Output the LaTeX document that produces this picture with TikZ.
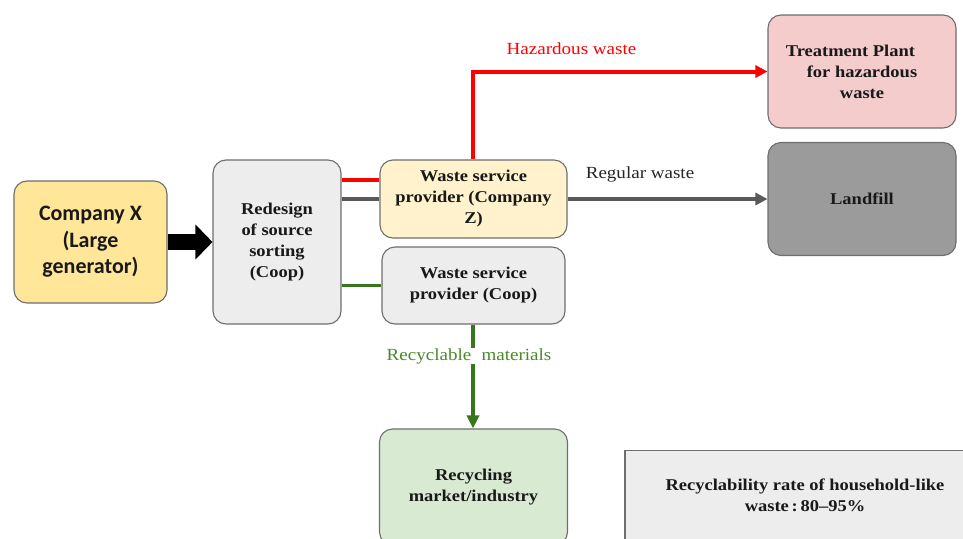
\documentclass[tikz,border=0pt]{standalone}
\usepackage{fontspec}
\setmainfont{Liberation Serif}
\newfontfamily\palf[FakeStretch=1.12,Ligatures=TeX]{Liberation Serif}
\newfontfamily\calib{Carlito}
\usetikzlibrary{arrows.meta}
\definecolor{bordergray}{HTML}{6E6E6E}
\definecolor{cxfill}{HTML}{FFE699}
\definecolor{lightgray}{HTML}{EDEDED}
\definecolor{czfill}{HTML}{FFF2CC}
\definecolor{tpfill}{HTML}{F4CCCC}
\definecolor{lffill}{HTML}{9B9B9B}
\definecolor{recfill}{HTML}{D9EAD3}
\definecolor{hazred}{HTML}{FF0000}
\definecolor{reggray}{HTML}{595959}
\definecolor{recgreen}{HTML}{38761D}
\definecolor{labgreen}{HTML}{4A8A2A}
\begin{document}
\begin{tikzpicture}[x=1pt,y=-1pt,
  box/.style={draw=bordergray, line width=1.1pt, rounded corners=13pt, align=center,
    inner sep=0pt, font=\palf\bfseries\fontsize{16.5}{21}\selectfont, text=black!90},
  flowred/.style={draw=hazred, line width=4pt},
  flowgray/.style={draw=reggray, line width=4pt},
  flowgreen/.style={draw=recgreen, line width=3.5pt},
  lab/.style={font=\palf\fontsize{17}{20}\selectfont, inner sep=0pt}
]
\clip (0,0) rectangle (963,538);
\fill[white] (0,0) rectangle (963,538);

\node[box, fill=cxfill, minimum width=153pt, minimum height=122pt,
  font=\calib\bfseries\fontsize{22}{26.5}\selectfont] (cx) at (90.5,242) {Company X\\(Large\\generator)};
\node[box, fill=lightgray, minimum width=128pt, minimum height=164pt] (rd) at (277,242) {Redesign\\of source\\sorting\\(Coop)};
\node[box, fill=czfill, minimum width=187pt, minimum height=78pt] (cz) at (473.5,199) {Waste service\\provider (Company\\Z)};
\node[box, fill=lightgray, minimum width=183pt, minimum height=77pt] (co) at (473.5,285.5) {Waste service\\provider (Coop)};
\node[box, fill=tpfill, minimum width=188pt, minimum height=113pt] (tp) at (862,71.5) {Treatment Plant\hspace*{1.4em}\\for hazardous\\waste};
\node[box, fill=lffill, minimum width=188pt, minimum height=113pt] (lf) at (862,199) {Landfill};
\node[box, fill=recfill, minimum width=188pt, minimum height=116pt] (rc) at (473.5,487) {Recycling\\market/industry};
\node[box, rounded corners=0pt, fill=lightgray, minimum width=360pt, minimum height=90pt] (rr) at (805,495.5) {Recyclability rate of household-like\\waste\,:\,80–95\%};

% big black arrow
\draw[black, line width=16pt, -{Triangle[length=17pt,width=34pt]}] (cx.east) -- (rd.west);

% red
\draw[flowred] (rd.east |- 0,180) -- (cz.west |- 0,180);
\draw[flowred, -{Triangle[length=12pt,width=12pt]}] (cz.north -| 473,0) |- (tp.west);
\node[lab, text=hazred] (hl) at (571.5,49) {Hazardous waste};

% gray
\draw[flowgray] (rd.east |- cz.west) -- (cz.west);
\draw[flowgray, -{Triangle[length=12pt,width=12pt]}] (cz.east) -- (lf.west |- cz.east);
\node[lab, text=black!85] (rl) at (640,174) {Regular waste};

% green
\draw[flowgreen] (rd.east |- co.west) -- (co.west);
\draw[flowgreen, -{Triangle[length=13pt,width=12pt]}] (co.south -| 473,0) -- (rc.north -| 473,0);
\node[lab, text=labgreen, fill=white, inner xsep=1pt] (gl) at (469,356) {Recyclable\hspace{0.6em}materials};
\end{tikzpicture}
\end{document}
